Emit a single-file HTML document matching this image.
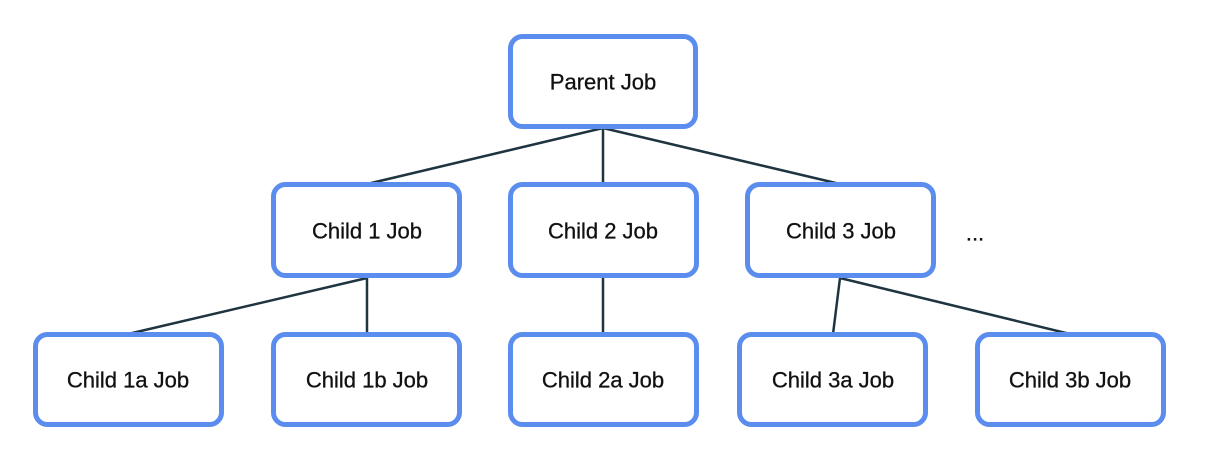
<!DOCTYPE html>
<html><head><style>
html,body{margin:0;padding:0;background:#fff;}
svg{display:block}
text{font-family:"Liberation Sans",sans-serif;font-size:22px;fill:#111;text-anchor:middle;dominant-baseline:central;stroke:#111;stroke-width:0.3}
rect{fill:#fff;stroke:#5b8def;stroke-width:5}
line{stroke:#1e3441;stroke-width:2.5}
</style></head><body>
<svg width="1208" height="466" viewBox="0 0 1208 466">
<line x1="603" y1="128" x2="367" y2="184"/>
<line x1="603" y1="128" x2="603" y2="184"/>
<line x1="603" y1="128" x2="840" y2="184"/>
<line x1="367" y1="278" x2="128" y2="334"/>
<line x1="367" y1="278" x2="367" y2="334"/>
<line x1="603" y1="278" x2="603" y2="334"/>
<line x1="840" y1="278" x2="833" y2="334"/>
<line x1="840" y1="278" x2="1070" y2="334"/>
<rect x="510.5" y="36.5" width="185" height="90" rx="12"/>
<text x="603" y="82">Parent Job</text>
<rect x="273.5" y="184.5" width="186" height="91" rx="12"/>
<text x="367" y="231">Child 1 Job</text>
<rect x="510.5" y="184.5" width="186" height="91" rx="12"/>
<text x="603" y="231">Child 2 Job</text>
<rect x="747.5" y="184.5" width="186" height="91" rx="12"/>
<text x="841" y="231">Child 3 Job</text>
<text x="975" y="233">...</text>
<rect x="35.5" y="334.5" width="186" height="90" rx="12"/>
<text x="128" y="380">Child 1a Job</text>
<rect x="273.5" y="334.5" width="186" height="90" rx="12"/>
<text x="367" y="380">Child 1b Job</text>
<rect x="510.5" y="334.5" width="186" height="90" rx="12"/>
<text x="603" y="380">Child 2a Job</text>
<rect x="739.5" y="334.5" width="186" height="90" rx="12"/>
<text x="833" y="380">Child 3a Job</text>
<rect x="977.5" y="334.5" width="186" height="90" rx="12"/>
<text x="1070" y="380">Child 3b Job</text>
</svg>
</body></html>
